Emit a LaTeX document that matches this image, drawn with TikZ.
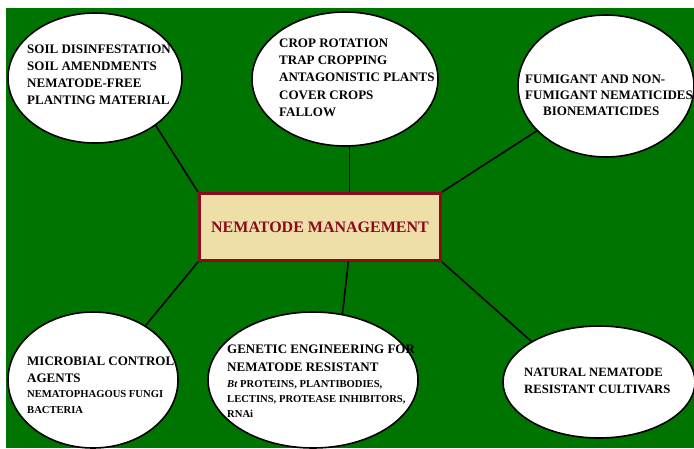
\documentclass[tikz,border=0pt]{standalone}
\usepackage{fontspec}
\setmainfont{Liberation Serif}
\usetikzlibrary{shapes.geometric}
\definecolor{bggreen}{RGB}{0,116,0}
\definecolor{boxfill}{RGB}{238,223,168}
\definecolor{boxred}{RGB}{140,10,30}
\tikzset{
  oval/.style={ellipse, draw=black, fill=white, line width=1.6pt, inner sep=0pt},
  link/.style={draw=black, line width=1.6pt},
  lbig/.style={anchor=base west, inner sep=0pt, font=\fontsize{13}{16}\selectfont\bfseries},
  lsmall/.style={anchor=base west, inner sep=0pt, font=\fontsize{10.6}{13}\selectfont\bfseries},
}
\begin{document}
\begin{tikzpicture}[x=1pt,y=-1pt]
\path[use as bounding box] (0,0) rectangle (694,448);
\fill[bggreen] (6,8) rectangle (694,448);

\node[oval, minimum width=174pt, minimum height=130pt] (e1) at (95,78) {};
\node[oval, minimum width=186pt, minimum height=134pt] (e2) at (345,79) {};
\node[oval, minimum width=176pt, minimum height=142pt] (e3) at (606,86) {};
\node[oval, minimum width=170pt, minimum height=136pt] (e4) at (93,380) {};
\node[oval, minimum width=210pt, minimum height=136pt] (e5) at (313,380) {};
\node[oval, minimum width=192pt, minimum height=112pt] (e6) at (599,382) {};

\node[draw=boxred, fill=boxfill, line width=3pt, inner sep=0pt,
      minimum width=241pt, minimum height=67pt,
      text=boxred, font=\fontsize{16}{19}\selectfont\bfseries] (box) at (320,227) {NEMATODE MANAGEMENT};

\draw[link] (e1.-38) -- (box.north west);
\draw[link] (e2.south -| box.50.4) -- (box.50.4);
\draw[link] (e3.-147.6) -- (box.north east);
\draw[link] (e4.46) -- (box.south west);
\draw[link] (e5.66) -- (box.-51.3);
\draw[link] (e6.149.8) -- (box.south east);

% top-left
\node[lbig] (a1) at (27,53) {SOIL DISINFESTATION};
\node[lbig] (a2) at (27,70) {SOIL AMENDMENTS};
\node[lbig] (a3) at (27,87) {NEMATODE-FREE};
\node[lbig] (a4) at (27,104) {PLANTING MATERIAL};
% top-middle
\node[lbig] (b1) at (279,47) {CROP ROTATION};
\node[lbig] (b2) at (279,64) {TRAP CROPPING};
\node[lbig] (b3) at (279,81.5) {ANTAGONISTIC PLANTS};
\node[lbig] (b4) at (279,99) {COVER CROPS};
\node[lbig] (b5) at (279,116) {FALLOW};
% top-right
\node[lbig] (c1) at (525,83) {FUMIGANT AND NON-};
\node[lbig] (c2) at (525,99) {FUMIGANT NEMATICIDES};
\node[lbig] (c3) at (543,115) {BIONEMATICIDES};
% bottom-left
\node[lbig] (d1) at (27,365) {MICROBIAL CONTROL};
\node[lbig] (d2) at (27,382) {AGENTS};
\node[lsmall] (d3) at (27,397) {NEMATOPHAGOUS FUNGI};
\node[lsmall] (d4) at (27,413) {BACTERIA};
% bottom-middle
\node[lbig] (f1) at (227,353) {GENETIC ENGINEERING FOR};
\node[lbig] (f2) at (227,371) {NEMATODE RESISTANT};
\node[lsmall] (f3) at (227,387) {\textit{Bt} PROTEINS, PLANTIBODIES,};
\node[lsmall] (f4) at (227,402) {LECTINS, PROTEASE INHIBITORS,};
\node[lsmall] (f5) at (227,417) {RNAi};
% bottom-right
\node[lbig, font=\fontsize{12.7}{16}\selectfont\bfseries] (g1) at (524,376) {NATURAL NEMATODE};
\node[lbig, font=\fontsize{12.7}{16}\selectfont\bfseries] (g2) at (524,393) {RESISTANT CULTIVARS};
\end{tikzpicture}
\end{document}
